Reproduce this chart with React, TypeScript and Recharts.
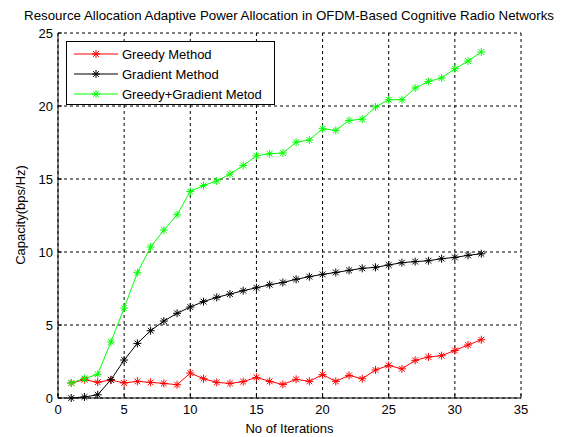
import {
  LineChart,
  Line,
  XAxis,
  YAxis,
  CartesianGrid,
  Legend,
  Label,
} from "recharts";

// Capacity vs iteration count for three allocation methods (MATLAB-style figure).

const iterations = [
  1, 2, 3, 4, 5, 6, 7, 8, 9, 10, 11, 12, 13, 14, 15, 16, 17, 18, 19, 20, 21,
  22, 23, 24, 25, 26, 27, 28, 29, 30, 31, 32,
];

const greedy = [
  1.03, 1.25, 1.08, 1.23, 1.03, 1.14, 1.07, 1.0, 0.91, 1.71, 1.32, 1.07, 1.0,
  1.12, 1.41, 1.14, 0.93, 1.28, 1.14, 1.6, 1.14, 1.55, 1.32, 1.92, 2.23, 2.0,
  2.58, 2.81, 2.9, 3.26, 3.63, 3.99,
];

const gradient = [
  0.0, 0.07, 0.22, 1.25, 2.6, 3.74, 4.61, 5.27, 5.8, 6.23, 6.6, 6.89, 7.12,
  7.35, 7.55, 7.76, 7.91, 8.13, 8.31, 8.47, 8.6, 8.74, 8.88, 8.95, 9.11, 9.27,
  9.34, 9.4, 9.54, 9.63, 9.77, 9.88,
];

const hybrid = [
  1.03, 1.34, 1.62, 3.84, 6.16, 8.58, 10.34, 11.5, 12.55, 14.15, 14.56, 14.86,
  15.34, 15.93, 16.59, 16.73, 16.78, 17.52, 17.67, 18.44, 18.33, 19.01, 19.1,
  19.93, 20.43, 20.43, 21.23, 21.68, 21.92, 22.55, 23.08, 23.7,
];

const xTicks = [0, 5, 10, 15, 20, 25, 30, 35];
const yTicks = [0, 5, 10, 15, 20, 25];

const series = [
  { key: "greedy", name: "Greedy Method", color: "#ff0000" },
  { key: "gradient", name: "Gradient Method", color: "#000000" },
  { key: "hybrid", name: "Greedy+Gradient Metod", color: "#00ff00" },
];

const data = iterations.map((it, i) => ({
  it,
  greedy: greedy[i],
  gradient: gradient[i],
  hybrid: hybrid[i],
}));

const FONT = "Arial, 'Liberation Sans', Helvetica, sans-serif";

// MATLAB '*' marker: plus + cross
function Star({ cx, cy, stroke }: any) {
  if (cx == null || cy == null) return null;
  const r = 4;
  const d = r * 0.72;
  return (
    <g stroke={stroke} strokeWidth={1}>
      <line x1={cx - r} y1={cy} x2={cx + r} y2={cy} />
      <line x1={cx} y1={cy - r} x2={cx} y2={cy + r} />
      <line x1={cx - d} y1={cy - d} x2={cx + d} y2={cy + d} />
      <line x1={cx - d} y1={cy + d} x2={cx + d} y2={cy - d} />
    </g>
  );
}

function LegendBox() {
  return (
    <div
      style={{
        width: 209,
        height: 64,
        border: "1px solid #000",
        background: "#fff",
        fontFamily: FONT,
        fontSize: 13,
        paddingTop: 2,
        boxSizing: "border-box",
      }}
    >
      {series.map((s) => (
        <div
          key={s.key}
          style={{ display: "flex", alignItems: "center", height: 20 }}
        >
          <svg width={55} height={20} style={{ flexShrink: 0 }}>
            <line x1={7} y1={10} x2={51} y2={10} stroke={s.color} />
            <Star cx={29} cy={10} stroke={s.color} />
          </svg>
          <span style={{ color: "#000" }}>{s.name}</span>
        </div>
      ))}
    </div>
  );
}

export default function App() {
  return (
    <div
      style={{
        position: "absolute",
        left: 0,
        top: 0,
        width: 565,
        height: 437,
        background: "#fff",
      }}
    >
      <div
        style={{
          position: "absolute",
          left: 0,
          top: 8,
          width: 578,
          textAlign: "center",
          fontFamily: FONT,
          fontSize: 13.3,
          lineHeight: "15px",
        }}
      >
        Resource Allocation Adaptive Power Allocation in OFDM-Based Cognitive
        Radio Networks
      </div>
      <LineChart
        width={565}
        height={437}
        data={data}
        margin={{ top: 33, right: 44, bottom: 0, left: 0 }}
        style={{ fontFamily: FONT }}
      >
        <CartesianGrid
          stroke="#000"
          strokeDasharray="3 3"
          horizontalValues={yTicks}
          verticalValues={xTicks}
        />
        <XAxis
          dataKey="it"
          type="number"
          domain={[0, 35]}
          ticks={xTicks}
          height={39}
          stroke="#000"
          tickSize={-4}
          tickMargin={11}
          tick={{ fill: "#000", fontSize: 13 }}
        >
          <Label
            value="No of Iterations"
            position="insideBottom"
            offset={4}
            fill="#000"
            fontSize={13}
          />
        </XAxis>
        <XAxis
          xAxisId="top"
          orientation="top"
          dataKey="it"
          type="number"
          domain={[0, 35]}
          ticks={xTicks}
          height={0}
          stroke="#000"
          tickSize={-4}
          tick={false}
        />
        <YAxis
          type="number"
          domain={[0, 25]}
          ticks={yTicks}
          width={58}
          stroke="#000"
          tickSize={-4}
          tickMargin={9}
          tick={{ fill: "#000", fontSize: 13 }}
        >
          <Label
            content={() => (
              <text
                x={25}
                y={215}
                textAnchor="middle"
                transform="rotate(-90, 25, 215)"
                fontSize={13}
                fill="#000"
              >
                Capacity(bps/Hz)
              </text>
            )}
          />
        </YAxis>
        <YAxis
          yAxisId="right"
          orientation="right"
          type="number"
          domain={[0, 25]}
          ticks={yTicks}
          width={0}
          stroke="#000"
          tickSize={-4}
          tick={false}
        />
        <Legend
          layout="vertical"
          align="center"
          verticalAlign="middle"
          wrapperStyle={{ left: 66, top: 41, width: 209, height: 64 }}
          content={() => <LegendBox />}
        />
        {series.map((s) => (
          <Line
            key={s.key}
            dataKey={s.key}
            name={s.name}
            stroke={s.color}
            strokeWidth={1}
            dot={<Star stroke={s.color} />}
            activeDot={false}
            isAnimationActive={false}
          />
        ))}
      </LineChart>
    </div>
  );
}
